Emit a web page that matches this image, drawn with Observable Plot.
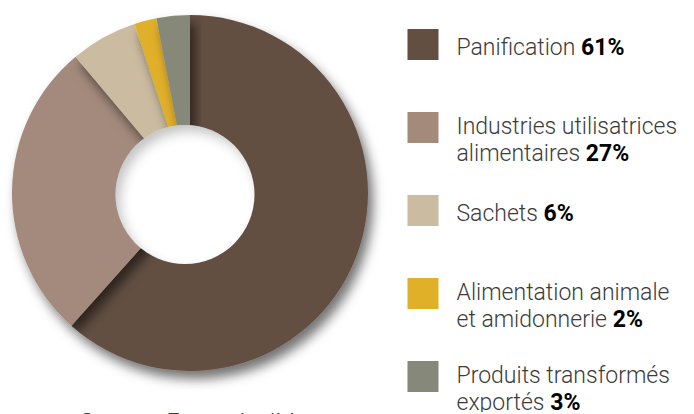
<!DOCTYPE html>
<html>
<head>
<meta charset="utf-8">
<script src="https://cdn.jsdelivr.net/npm/d3@7"></script>
<script src="https://cdn.jsdelivr.net/npm/@observablehq/plot@0.6"></script>
<style>
  html, body { margin: 0; padding: 0; background: #fff; }
  #wrap { width: 694px; height: 414px; overflow: hidden; position: relative; background: #fff; }
  #caption { font-family: "Roboto Light", Roboto, sans-serif; font-weight: 300; font-size: 23px; line-height: 23px;
             color: #3c3c3c; padding-left: 80px; white-space: nowrap; margin-top: -1px; }
</style>
</head>
<body>
<div id="wrap"><div id="chart"></div><div id="caption"></div></div>
<script>
// ---- data ----
const categories = ["Panification", "Industries", "Sachets", "Alimentation", "Produits"];
const labels = [
  "Panification",
  "Industries utilisatrices\nalimentaires",
  "Sachets",
  "Alimentation animale\net amidonnerie",
  "Produits transformés\nexportés"
];
const values = [61, 27, 6, 2, 3];
const colors = ["#634f42", "#a38a7b", "#cbbba0", "#e1b029", "#86897a"];
const sourceText = "Source : FranceAgriMer";

const rows = categories.map((c, i) => ({
  category: c,
  label: labels[i],
  value: values[i],
  pct: values[i] + "%",
  lines: labels[i].split("\n").length
}));

// ---- donut (custom render mark) ----
function donut(index, scales) {
  const cx = 190, cy = 193, R = 178;
  const hole = {cx: 185, cy: 194.5, r: 69.5};
  const color = scales.color || (c => colors[categories.indexOf(c)]);
  const arcs = d3.pie().sort(null).value(d => d.value)(rows);
  const arc = d3.arc().innerRadius(0).outerRadius(R);
  const g = d3.create("svg:g");
  const defs = g.append("defs");
  const sh = defs.append("filter").attr("id", "slice-shadow")
    .attr("x", "-30%").attr("y", "-30%").attr("width", "160%").attr("height", "160%");
  sh.append("feDropShadow").attr("dx", 5).attr("dy", 8).attr("stdDeviation", 6)
    .attr("flood-color", "#000").attr("flood-opacity", 0.55);
  const ins = defs.append("filter").attr("id", "hole-inset")
    .attr("x", "-20%").attr("y", "-20%").attr("width", "140%").attr("height", "140%");
  ins.append("feOffset").attr("in", "SourceAlpha").attr("dx", 5).attr("dy", 7).attr("result", "off");
  ins.append("feGaussianBlur").attr("in", "off").attr("stdDeviation", 6).attr("result", "blur");
  ins.append("feComposite").attr("operator", "out").attr("in", "SourceAlpha").attr("in2", "blur").attr("result", "inverse");
  ins.append("feFlood").attr("flood-color", "#000").attr("flood-opacity", 0.45).attr("result", "color");
  ins.append("feComposite").attr("operator", "in").attr("in", "color").attr("in2", "inverse").attr("result", "shadow");
  ins.append("feComposite").attr("operator", "over").attr("in", "shadow").attr("in2", "SourceGraphic");

  g.append("g").attr("transform", `translate(${cx},${cy})`)
    .selectAll("path").data(arcs).join("path")
    .attr("d", arc)
    .attr("fill", d => color(d.data.category))
    .attr("filter", "url(#slice-shadow)");
  g.append("circle")
    .attr("cx", hole.cx).attr("cy", hole.cy).attr("r", hole.r)
    .attr("fill", "#fff").attr("filter", "url(#hole-inset)");
  return g.node();
}

const textBase = {
  y: "category", text: "label", frameAnchor: "left", dx: 456,
  textAnchor: "start", lineAnchor: "top", fontSize: 23, fontWeight: 300,
  lineHeight: 1.2, fill: "#3c3c3c"
};

const chart = Plot.plot({
  width: 694, height: 412, margin: 0,
  style: {fontFamily: "'Roboto Light', Roboto, sans-serif", background: "white", overflow: "hidden"},
  y: {type: "point", domain: categories, range: [42.5, 377.5], padding: 0, axis: null},
  color: {domain: categories, range: colors},
  marks: [
    donut,
    Plot.dot(rows, {y: "category", frameAnchor: "left", dx: 422.5, symbol: "square", r: 17.5, fill: "category"}),
    Plot.text(rows.filter(d => d.lines === 1), {...textBase, dy: -9.5}),
    Plot.text(rows.filter(d => d.lines > 1), {...textBase, dy: -13.5})
  ]
});

// append bold percentage to the last line of each legend label
chart.querySelectorAll("text").forEach(t => {
  const full = t.textContent;
  const i = labels.findIndex(l => l.replace(/\n/g, "") === full);
  if (i < 0) return;
  const tspans = t.querySelectorAll(":scope > tspan");
  const target = tspans.length ? tspans[tspans.length - 1] : t;
  const ts = document.createElementNS("http://www.w3.org/2000/svg", "tspan");
  ts.setAttribute("font-weight", "700");
  ts.setAttribute("font-family", "Roboto, sans-serif");
  ts.setAttribute("fill", "#000");
  ts.textContent = " " + rows[i].pct;
  target.appendChild(ts);
});

document.getElementById("chart").appendChild(chart);
document.getElementById("caption").textContent = sourceText;
</script>
</body>
</html>
